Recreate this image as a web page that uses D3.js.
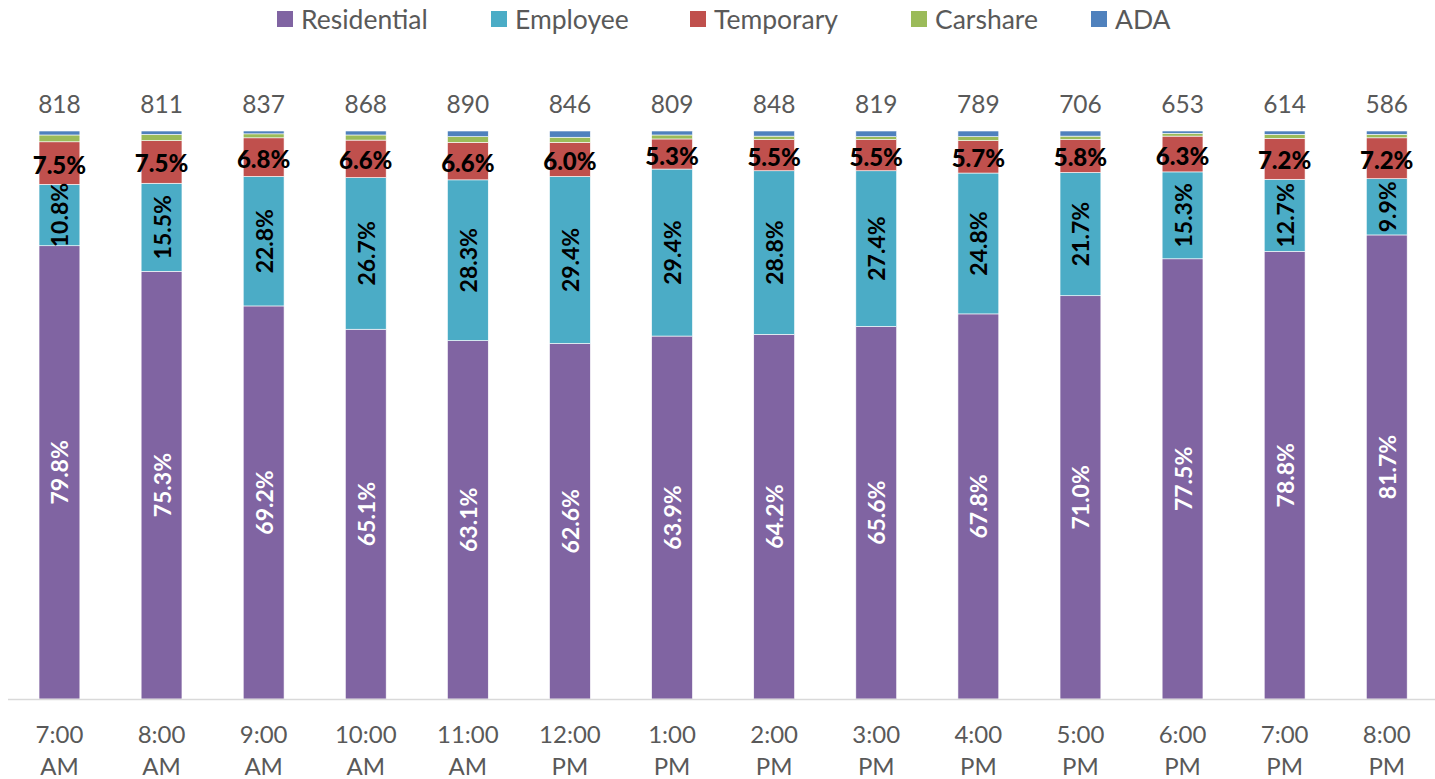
<!DOCTYPE html>
<html>
<head>
<meta charset="utf-8">
<script src="https://cdn.jsdelivr.net/npm/d3@7"></script>
<style>
  html, body { margin: 0; padding: 0; background: #fff; }
  svg text { font-family: Lato, "Open Sans", sans-serif; }
</style>
</head>
<body>
<svg id="chart" width="1435" height="779"></svg>
<script>
const categories = ["7:00 AM","8:00 AM","9:00 AM","10:00 AM","11:00 AM","12:00 PM","1:00 PM","2:00 PM","3:00 PM","4:00 PM","5:00 PM","6:00 PM","7:00 PM","8:00 PM"];
const totals = [818, 811, 837, 868, 890, 846, 809, 848, 819, 789, 706, 653, 614, 586];
const residential = [79.8, 75.3, 69.2, 65.1, 63.1, 62.6, 63.9, 64.2, 65.6, 67.8, 71.0, 77.5, 78.8, 81.7];
const employee    = [10.8, 15.5, 22.8, 26.7, 28.3, 29.4, 29.4, 28.8, 27.4, 24.8, 21.7, 15.3, 12.7, 9.9];
const temporary   = [7.5, 7.5, 6.8, 6.6, 6.6, 6.0, 5.3, 5.5, 5.5, 5.7, 5.8, 6.3, 7.2, 7.2];
const carshare    = [1.2, 1.1, 0.7, 0.9, 1.0, 0.9, 0.7, 0.6, 0.5, 0.7, 0.6, 0.5, 0.7, 0.6];
const ada         = [0.7, 0.6, 0.5, 0.7, 1.0, 1.1, 0.7, 0.9, 1.0, 1.0, 0.9, 0.4, 0.6, 0.6];
const seriesNames = ["Residential", "Employee", "Temporary", "Carshare", "ADA"];
const seriesColors = ["#8064A2", "#4BACC6", "#C0504D", "#9BBB59", "#4F81BD"];

const seriesData = [residential, employee, temporary, carshare, ada];
const rows = categories.map((c, i) => {
  const r = { cat: c, total: totals[i] };
  seriesNames.forEach((s, k) => r[s] = seriesData[k][i]);
  return r;
});

const svg = d3.select("#chart");
const x = d3.scaleBand().domain(categories).range([8.4, 1437.8]).paddingInner(0.6).paddingOuter(0.3);
const y = d3.scaleLinear().domain([0, 100]).range([699, 131]);
const color = d3.scaleOrdinal().domain(seriesNames).range(seriesColors);

const stack = d3.stack().keys(seriesNames);
const stacked = stack(rows);

// bars
const layers = svg.append("g").selectAll("g").data(stacked).join("g")
  .attr("fill", d => color(d.key));
layers.selectAll("rect").data(d => d).join("rect")
  .attr("x", d => x(d.data.cat))
  .attr("width", x.bandwidth())
  .attr("y", d => y(d[1]))
  .attr("height", d => y(d[0]) - y(d[1]))
  .attr("stroke", "#ffffff")
  .attr("stroke-width", 0.6);

// axis line
svg.append("line").attr("x1", 8).attr("x2", 1435).attr("y1", 699.5).attr("y2", 699.5)
  .attr("stroke", "#d9d9d9").attr("stroke-width", 1.5);

// x labels
const xl = svg.append("g");
categories.forEach(c => {
  const parts = c.split(" ");
  const t = xl.append("text")
    .attr("x", x(c) + x.bandwidth() / 2)
    .attr("text-anchor", "middle")
    .attr("fill", "#595959")
    .style("font-size", "24px");
  t.append("tspan").attr("x", x(c) + x.bandwidth() / 2).attr("y", 743).text(parts[0]);
  t.append("tspan").attr("x", x(c) + x.bandwidth() / 2).attr("y", 775).text(parts[1]);
});

// totals
svg.append("g").selectAll("text").data(rows).join("text")
  .attr("x", d => x(d.cat) + x.bandwidth() / 2)
  .attr("y", 113)
  .attr("text-anchor", "middle")
  .attr("fill", "#595959")
  .style("font-size", "24.5px")
  .text(d => d.total);

// segment labels
const fmt = v => v.toFixed(1) + "%";
const resLayer = stacked[0], empLayer = stacked[1], tmpLayer = stacked[2];
const lab = svg.append("g");
resLayer.forEach(d => {
  const cx = x(d.data.cat) + x.bandwidth() / 2, cy = (y(d[0]) + y(d[1])) / 2;
  lab.append("text").attr("transform", `translate(${cx},${cy}) rotate(-90)`)
    .attr("text-anchor", "middle").attr("dominant-baseline", "central")
    .attr("fill", "#ffffff").style("font-weight", "bold").style("font-size", "23px")
    .text(fmt(d[1] - d[0]));
});
empLayer.forEach(d => {
  const cx = x(d.data.cat) + x.bandwidth() / 2, cy = (y(d[0]) + y(d[1])) / 2;
  lab.append("text").attr("transform", `translate(${cx},${cy}) rotate(-90)`)
    .attr("text-anchor", "middle").attr("dominant-baseline", "central")
    .attr("fill", "#000000").style("font-weight", "bold").style("font-size", "23px")
    .text(fmt(d[1] - d[0]));
});
tmpLayer.forEach(d => {
  const cx = x(d.data.cat) + x.bandwidth() / 2, cy = (y(d[0]) + y(d[1])) / 2;
  lab.append("text").attr("x", cx).attr("y", cy + 1)
    .attr("text-anchor", "middle").attr("dominant-baseline", "central")
    .attr("fill", "#000000").style("font-weight", "900").style("font-size", "24px")
    .text(fmt(d[1] - d[0]));
});

// legend
const legendX = [277, 491, 690, 911, 1091];
const lg = svg.append("g");
seriesNames.forEach((s, i) => {
  lg.append("rect").attr("x", legendX[i]).attr("y", 11).attr("width", 16).attr("height", 16).attr("fill", color(s));
  lg.append("text").attr("x", legendX[i] + 24).attr("y", 28.5)
    .attr("fill", "#595959").style("font-size", "26.5px").text(s);
});
</script>
</body>
</html>
